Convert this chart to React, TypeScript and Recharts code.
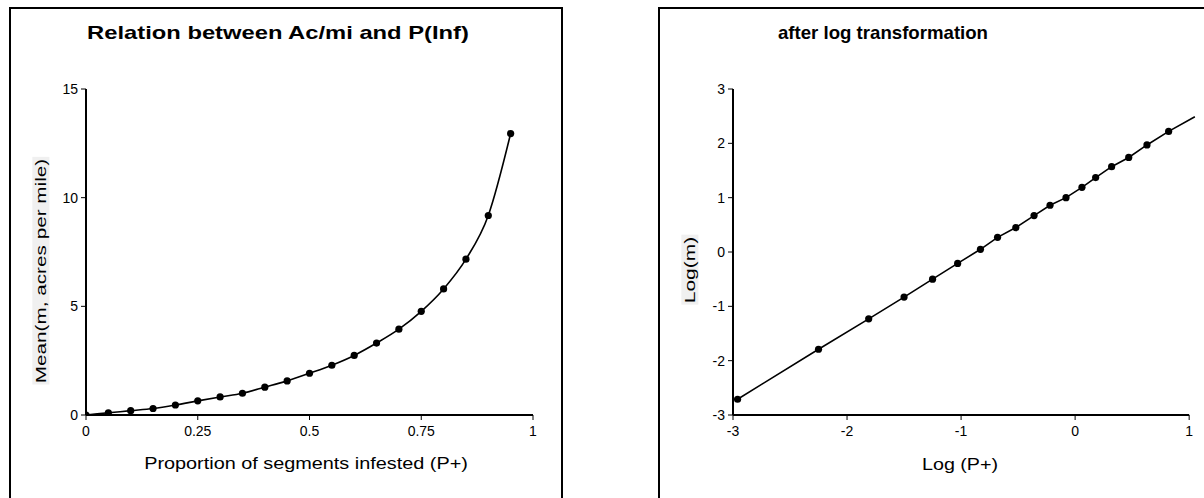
import React from 'react';
import { ComposedChart, Line, Scatter, XAxis, YAxis, ReferenceLine } from 'recharts';

// ---- Left chart data: proportion infested vs mean acres per mile ----
const propInfested = [0, 0.05, 0.1, 0.15, 0.2, 0.25, 0.3, 0.35, 0.4, 0.45, 0.5, 0.55, 0.6, 0.65, 0.7, 0.75, 0.8, 0.85, 0.9, 0.95];
const meanAcres = [0, 0.1, 0.2, 0.3, 0.46, 0.65, 0.83, 1.0, 1.28, 1.57, 1.92, 2.29, 2.74, 3.31, 3.95, 4.77, 5.8, 7.17, 9.18, 12.95];
const leftXTicks = [0, 0.25, 0.5, 0.75, 1];
const leftYTicks = [0, 5, 10, 15];

// ---- Right chart data: after log transformation ----
const logP = [-2.96, -2.25, -1.81, -1.5, -1.25, -1.03, -0.83, -0.68, -0.52, -0.36, -0.22, -0.08, 0.06, 0.18, 0.32, 0.47, 0.63, 0.82];
const logM = [-2.71, -1.79, -1.23, -0.83, -0.5, -0.21, 0.05, 0.27, 0.45, 0.67, 0.86, 1.0, 1.19, 1.37, 1.57, 1.74, 1.97, 2.22];
const logLineTailX = [1.05];
const logLineTailY = [2.49];
const rightXTicks = [-3, -2, -1, 0, 1];
const rightYTicks = [-3, -2, -1, 0, 1, 2, 3];

const leftData = propInfested.map((x, i) => ({ x, y: meanAcres[i] }));
const rightPoints = logP.map((x, i) => ({ x, y: logM[i] }));
const rightLine = [...rightPoints, ...logLineTailX.map((x, i) => ({ x, y: logLineTailY[i] }))];

const FONT = 'Arial, "Liberation Sans", sans-serif';
const TICK_FS = 14;

const Dot = (props: any) => {
  const { cx, cy } = props;
  if (cx == null || cy == null) return null;
  return <circle cx={cx} cy={cy} r={3.6} fill="#000" stroke="none" />;
};

const XTick = (props: any) => {
  const { x, y, payload } = props;
  return (
    <text x={x} y={y} dy="0.71em" textAnchor="middle" fontSize={TICK_FS} fontFamily={FONT} fill="#000">
      {String(payload.value)}
    </text>
  );
};

const YTick = (props: any) => {
  const { x, y, payload } = props;
  return (
    <text x={x} y={y} dy="0.36em" textAnchor="end" fontSize={TICK_FS} fontFamily={FONT} fill="#000">
      {String(payload.value)}
    </text>
  );
};

// text centred at (cx, cy), optionally rotated, stretched along its length
const Label = ({ cx, cy, text, size, bold, sx = 1, rotate = false, bg }: any) => (
  <div
    style={{
      position: 'absolute',
      left: cx,
      top: cy,
      transform: `translate(-50%, -50%)${rotate ? ' rotate(-90deg)' : ''} scaleX(${sx})`,
      whiteSpace: 'nowrap',
      fontSize: size,
      fontWeight: bold ? 'bold' : 'normal',
      color: '#000',
      background: bg || 'transparent',
      lineHeight: 1.15,
      padding: '0 1px',
    }}
  >
    {text}
  </div>
);

export default function App() {
  const W = 1204;
  const H = 498;
  const yAxisW = 60;
  const xAxisH = 30;
  return (
    <div style={{ position: 'fixed', left: 0, top: 0, width: W, height: H, background: '#fff', overflow: 'hidden', fontFamily: FONT }}>
      {/* panel frames */}
      <div style={{ position: 'absolute', left: 9, top: 7, width: 550, height: 600, border: '2px solid #000' }} />
      <div style={{ position: 'absolute', left: 658, top: 7, width: 600, height: 600, border: '2px solid #000' }} />

      {/* titles */}
      <Label cx={278} cy={33} text="Relation between Ac/mi and P(Inf)" size={19} bold sx={1.25} />
      <Label cx={883} cy={33} text="after log transformation" size={19} bold sx={0.98} />

      {/* y axis titles */}
      <Label cx={41} cy={271} text="Mean(m, acres per mile)" size={15} rotate sx={1.38} bg="#f0f0f0" />
      <Label cx={690} cy={270} text="Log(m)" size={15} rotate sx={1.4} bg="#f0f0f0" />

      {/* x axis titles */}
      <Label cx={306} cy={464} text="Proportion of segments infested (P+)" size={16} sx={1.24} />
      <Label cx={960} cy={465} text="Log (P+)" size={16} sx={1.23} />

      {/* left chart */}
      <div style={{ position: 'absolute', left: 0, top: 0 }}>
        <ComposedChart width={600} height={H} margin={{ top: 89, left: 86 - yAxisW, right: 600 - 533, bottom: H - 415 - xAxisH }}>
          <XAxis
            type="number"
            dataKey="x"
            domain={[0, 1]}
            ticks={leftXTicks}
            height={xAxisH}
            axisLine={{ stroke: '#000', strokeWidth: 2 }}
            tickLine={{ stroke: '#000', strokeWidth: 1 }}
            tickSize={5}
            tickMargin={6}
            tick={<XTick />}
            allowDataOverflow
          />
          <YAxis
            type="number"
            dataKey="y"
            domain={[0, 15]}
            ticks={leftYTicks}
            width={yAxisW}
            axisLine={{ stroke: '#000', strokeWidth: 2 }}
            tickLine={{ stroke: '#000', strokeWidth: 1 }}
            tickSize={5}
            tickMargin={3}
            tick={<YTick />}
            allowDataOverflow
          />
          <Line data={leftData} dataKey="y" type="monotone" stroke="#000" strokeWidth={1.6} dot={<Dot />} activeDot={false} isAnimationActive={false} />
        </ComposedChart>
      </div>

      {/* right chart */}
      <div style={{ position: 'absolute', left: 0, top: 0 }}>
        <ComposedChart width={W} height={H} margin={{ top: 89, left: 733 - yAxisW, right: 8, bottom: H - 415 - xAxisH }}>
          <XAxis
            type="number"
            dataKey="x"
            domain={[-3, 1.06]}
            ticks={rightXTicks}
            height={xAxisH}
            axisLine={false}
            tickLine={{ stroke: '#000', strokeWidth: 1 }}
            tickSize={5}
            tickMargin={6}
            tick={<XTick />}
            allowDataOverflow
          />
          <YAxis
            type="number"
            dataKey="y"
            domain={[-3, 3]}
            ticks={rightYTicks}
            width={yAxisW}
            axisLine={{ stroke: '#000', strokeWidth: 2 }}
            tickLine={{ stroke: '#000', strokeWidth: 1 }}
            tickSize={5}
            tickMargin={3}
            tick={<YTick />}
            allowDataOverflow
          />
          <ReferenceLine segment={[{ x: -3, y: -3 }, { x: 1, y: -3 }]} stroke="#000" strokeWidth={2} ifOverflow="visible" />
          <Line data={rightLine} dataKey="y" type="linear" stroke="#000" strokeWidth={1.6} dot={false} activeDot={false} isAnimationActive={false} />
          <Scatter data={rightPoints} dataKey="y" fill="#000" shape={<Dot />} isAnimationActive={false} />
        </ComposedChart>
      </div>
    </div>
  );
}
